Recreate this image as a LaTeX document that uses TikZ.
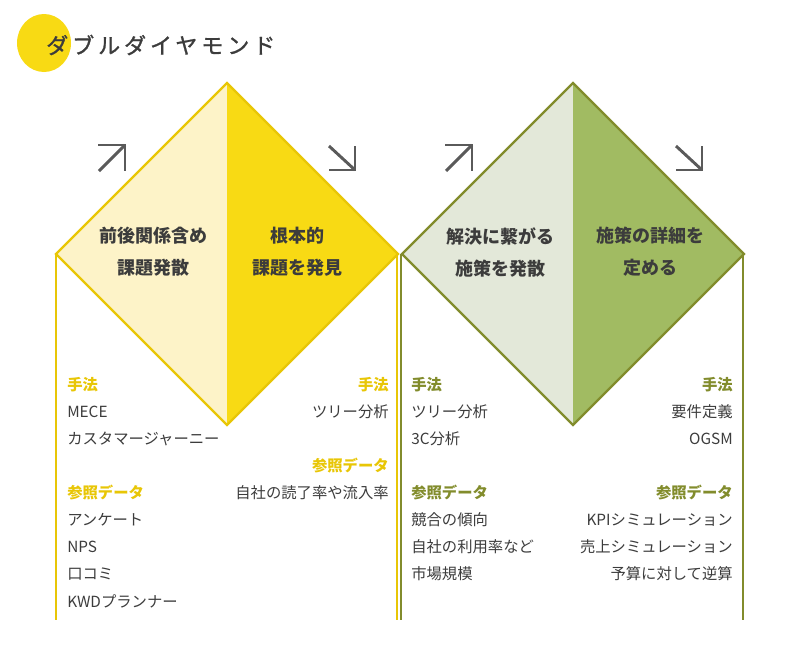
\documentclass[tikz,border=0pt]{standalone}
\usepackage{fontspec}
\setmainfont{Noto Sans CJK JP}
\newfontfamily\titlefont[LetterSpace=18,FakeBold=1.2]{Noto Sans CJK JP}
\definecolor{ylline}{HTML}{E8C606}
\definecolor{ylpale}{HTML}{FDF3C8}
\definecolor{ylfull}{HTML}{F8DA14}
\definecolor{olline}{HTML}{828C2C}
\definecolor{olpale}{HTML}{E3E8D9}
\definecolor{olfull}{HTML}{A1BB62}
\definecolor{txtgray}{HTML}{3C3C3C}
\definecolor{arrgray}{HTML}{5A5A5A}
\tikzset{
  phase/.style={font=\fontsize{13.5}{16}\selectfont\bfseries, text=txtgray, align=center, inner sep=0pt},
  itemL/.style={font=\fontsize{11.5}{13}\selectfont, text=txtgray, anchor=west, inner sep=0pt},
  itemR/.style={font=\fontsize{11.5}{13}\selectfont, text=txtgray, anchor=east, inner sep=0pt},
  headL/.style={itemL, font=\fontsize{11.5}{13}\selectfont\bfseries},
  headR/.style={itemR, font=\fontsize{11.5}{13}\selectfont\bfseries},
  updown/.style={arrgray, line width=2.2pt, line cap=butt}
}
\begin{document}
\begin{tikzpicture}[x=0.75pt,y=-0.75pt]
        \useasboundingbox (0,0) rectangle (800,650);
        \fill[ylfull] (44,43) ellipse[x radius=27,y radius=29];
        \node[anchor=west, inner sep=0pt, text=txtgray] (title) at (46,45) {\titlefont\fontsize{16.5}{19}\selectfont ダブルダイヤモンド};
        \coordinate (aT) at (227,83);
        \coordinate (aL) at (56,254);
        \coordinate (aR) at (398,254);
        \coordinate (aB) at (227,425);
        \coordinate (bT) at (573,83);
        \coordinate (bL) at (402,254);
        \coordinate (bR) at (744,254);
        \coordinate (bB) at (573,425);
        \fill[ylpale] (aT) -- (aL) -- (aB) -- cycle;
        \fill[ylfull] (aT) -- (aR) -- (aB) -- cycle;
        \fill[olpale] (bT) -- (bL) -- (bB) -- cycle;
        \fill[olfull] (bT) -- (bR) -- (bB) -- cycle;
        \draw[ylline,line width=1.7pt] (aT) -- (aL) -- (aB) -- (aR) -- cycle;
        \draw[olline,line width=1.7pt] (bT) -- (bL) -- (bB) -- (bR) -- cycle;
        \draw[ylline,line width=2pt] (aL) -- (56,620);
        \draw[ylline,line width=2pt] (397,254) -- (397,620);
        \draw[olline,line width=2pt] (401,254) -- (401,620);
        \draw[olline,line width=2pt] (743,254) -- (743,620);
        \draw[updown] (98,145) -- (125,145) -- (125,171);
        \draw[updown] (99,171) -- (125,145);
        \draw[updown] (355,146) -- (355,170) -- (329,170);
        \draw[updown] (329,146) -- (355,170);
        \draw[updown] (445,145) -- (472,145) -- (472,171);
        \draw[updown] (446,171) -- (472,145);
        \draw[updown] (702,146) -- (702,170) -- (676,170);
        \draw[updown] (676,146) -- (702,170);
        \node[phase] (p1) at (153,252) {前後関係含め\\[8pt]課題発散};
        \node[phase] (p2) at (297,252) {根本的\\[8pt]課題を発見};
        \node[phase] (p3) at (500,252) {解決に繋がる\\[8pt]施策を発散};
        \node[phase] (p4) at (650,252) {施策の詳細を\\[8pt]定める};
        \node[headL,text=ylline] (h1) at (67,385) {手法};
        \node[itemL] at (67,412) {MECE};
        \node[itemL] at (67,439) {カスタマージャーニー};
        \node[headL,text=ylline] (r1) at (67,493) {参照データ};
        \node[itemL] at (67,520) {アンケート};
        \node[itemL] at (67,547) {NPS};
        \node[itemL] at (67,574) {口コミ};
        \node[itemL] at (67,601) {KWDプランナー};
        \node[headR,text=ylline] (h2) at (389,385) {手法};
        \node[itemR] at (389,412) {ツリー分析};
        \node[headR,text=ylline] (r2) at (389,466) {参照データ};
        \node[itemR] at (389,493) {自社の読了率や流入率};
        \node[headL,text=olline] (h3) at (411,385) {手法};
        \node[itemL] at (411,412) {ツリー分析};
        \node[itemL] at (411,439) {3C分析};
        \node[headL,text=olline] (r3) at (411,493) {参照データ};
        \node[itemL] at (411,520) {競合の傾向};
        \node[itemL] at (411,547) {自社の利用率など};
        \node[itemL] at (411,574) {市場規模};
        \node[headR,text=olline] (h4) at (733,385) {手法};
        \node[itemR] at (733,412) {要件定義};
        \node[itemR] at (733,439) {OGSM};
        \node[headR,text=olline] (r4) at (733,493) {参照データ};
        \node[itemR] at (733,520) {KPIシミュレーション};
        \node[itemR] at (733,547) {売上シミュレーション};
        \node[itemR] at (733,574) {予算に対して逆算};
    \end{tikzpicture}
\end{document}
